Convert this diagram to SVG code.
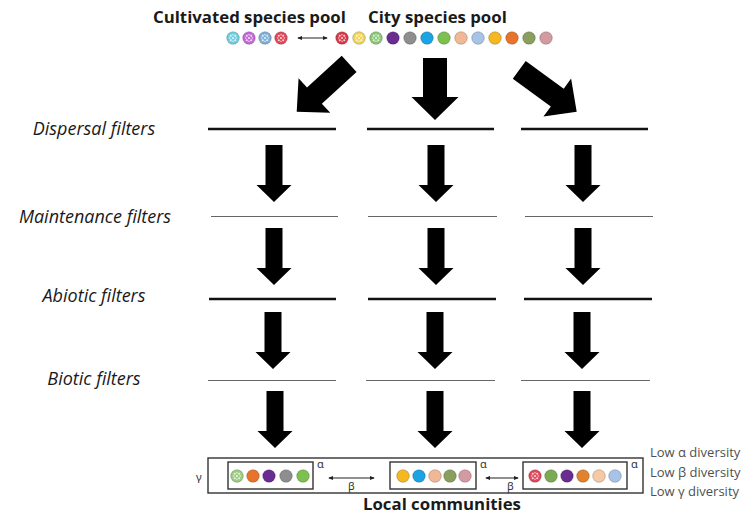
<svg xmlns="http://www.w3.org/2000/svg" xmlns:xlink="http://www.w3.org/1999/xlink" width="753" height="517" viewBox="0 0 753 517">
<style>
.title{font-family:"Open Sans","Noto Sans",sans-serif;font-weight:bold;font-size:16.8px;fill:#1a1a1a}
.lab{font-family:"Open Sans","Noto Sans",sans-serif;font-style:italic;font-size:18px;fill:#1a1a1a;text-anchor:middle}
.gr{font-family:"Noto Sans","DejaVu Sans",sans-serif;font-size:11px;fill:#333}
.low{font-family:"Open Sans","Noto Sans",sans-serif;font-size:13px;fill:#505050}
.thick{stroke:#111;stroke-width:2.6;fill:none}
.thin{stroke:#666;stroke-width:1.2;fill:none}
.c{stroke:#000;stroke-opacity:0.25;stroke-width:0.8}
.box{fill:none;stroke:#333;stroke-width:1.4}
.dbl{stroke:#222;stroke-width:1;fill:none;marker-start:url(#ah);marker-end:url(#ah)}
.arr{fill:#000}
</style>
<defs>
<marker id="ah" viewBox="0 0 6 6" refX="5" refY="3" markerWidth="5" markerHeight="5" orient="auto-start-reverse" markerUnits="userSpaceOnUse">
<path d="M0,0.5 L6,3 L0,5.5 Z" fill="#222"/>
</marker>
<g id="chk" fill="#fff" fill-opacity="0.8">
<circle cx="0" cy="0" r="1.1"/>
<circle cx="-2.2" cy="-2.2" r="1"/>
<circle cx="2.2" cy="-2.2" r="1"/>
<circle cx="-2.2" cy="2.2" r="1"/>
<circle cx="2.2" cy="2.2" r="1"/>
<circle cx="-3.3" cy="0" r="0.7"/>
<circle cx="3.3" cy="0" r="0.7"/>
<circle cx="0" cy="-3.3" r="0.7"/>
<circle cx="0" cy="3.3" r="0.7"/>
</g>
<path id="da" d="M-8.5,0 H8.5 V40 H17.5 L0,57 L-17.5,40 H-8.5 Z"/>
<path id="big" d="M-11,-71 H11 V-24 H23.5 L0,0 L-23.5,-24 H-11 Z"/>
</defs>

<g id="cultivated-pool">
<text class="title" x="153" y="23">Cultivated species pool</text>
<circle class="c" cx="233" cy="38" r="6.3" fill="#6fcfe0"/><use xlink:href="#chk" x="233" y="38"/>
<circle class="c" cx="249" cy="38" r="6.3" fill="#c46ad6"/><use xlink:href="#chk" x="249" y="38"/>
<circle class="c" cx="265" cy="38" r="6.3" fill="#7fb0d8"/><use xlink:href="#chk" x="265" y="38"/>
<circle class="c" cx="281" cy="38" r="6.3" fill="#e2475a"/><use xlink:href="#chk" x="281" y="38"/>
</g>

<g id="city-pool">
<text class="title" x="368" y="23">City species pool</text>
<circle class="c" cx="342" cy="38" r="6.3" fill="#d83a4a"/><use xlink:href="#chk" x="342" y="38"/>
<circle class="c" cx="359" cy="38" r="6.3" fill="#f2d55a"/><use xlink:href="#chk" x="359" y="38"/>
<circle class="c" cx="376" cy="38" r="6.3" fill="#8cc878"/><use xlink:href="#chk" x="376" y="38"/>
<circle class="c" cx="393" cy="38" r="6.3" fill="#6b2c91"/>
<circle class="c" cx="410" cy="38" r="6.3" fill="#8e8e8e" stroke-opacity="0.5"/>
<circle class="c" cx="427" cy="38" r="6.3" fill="#1ca3e3"/>
<circle class="c" cx="444" cy="38" r="6.3" fill="#7cc04e"/>
<circle class="c" cx="461" cy="38" r="6.3" fill="#f2b896"/>
<circle class="c" cx="478" cy="38" r="6.3" fill="#a7c3e8"/>
<circle class="c" cx="495" cy="38" r="6.3" fill="#f5b820"/>
<circle class="c" cx="512" cy="38" r="6.3" fill="#e8742c"/>
<circle class="c" cx="529" cy="38" r="6.3" fill="#8a9e5e"/>
<circle class="c" cx="546" cy="38" r="6.3" fill="#d49aa2"/>
</g>

<g id="dispersal-filters">
<text class="lab" x="94" y="135">Dispersal filters</text>
<line class="thick" x1="208" y1="129" x2="336" y2="129"/>
<line class="thick" x1="367" y1="129" x2="494" y2="129"/>
<line class="thick" x1="521" y1="129" x2="648" y2="129"/>
</g>
<g id="maintenance-filters">
<text class="lab" x="95" y="223">Maintenance filters</text>
<line class="thin" x1="211" y1="216.5" x2="338" y2="216.5"/>
<line class="thin" x1="368" y1="216.5" x2="497" y2="216.5"/>
<line class="thin" x1="525" y1="216.5" x2="653" y2="216.5"/>
</g>
<g id="abiotic-filters">
<text class="lab" x="94" y="302">Abiotic filters</text>
<line class="thick" x1="209" y1="299" x2="336" y2="299"/>
<line class="thick" x1="368" y1="299" x2="496" y2="299"/>
<line class="thick" x1="524" y1="299" x2="652" y2="299"/>
</g>
<g id="biotic-filters">
<text class="lab" x="94" y="385">Biotic filters</text>
<line class="thin" x1="208" y1="380.5" x2="336" y2="380.5"/>
<line class="thin" x1="366" y1="380.5" x2="495" y2="380.5"/>
<line class="thin" x1="521" y1="380.5" x2="650" y2="380.5"/>
</g>

<g id="local-communities">
<rect class="box" x="208" y="458" width="435" height="35"/>
<text class="gr" x="196" y="481" font-size="12">γ</text>
<g id="community-1">
<rect class="box" x="228" y="462" width="85" height="27"/>
<circle class="c" cx="237" cy="476" r="6.3" fill="#9ccc80"/><use xlink:href="#chk" x="237" y="476"/>
<circle class="c" cx="253" cy="476" r="6.3" fill="#e8742c"/>
<circle class="c" cx="269" cy="476" r="6.3" fill="#6b2c91"/>
<circle class="c" cx="286" cy="476" r="6.3" fill="#8e8e8e" stroke-opacity="0.5"/>
<circle class="c" cx="303" cy="476" r="6.3" fill="#7cc04e"/>
<text class="gr" x="317" y="468">α</text>
</g>
<g id="community-2">
<rect class="box" x="390" y="462" width="86" height="27"/>
<circle class="c" cx="403" cy="476" r="6.3" fill="#f5b820"/>
<circle class="c" cx="419" cy="476" r="6.3" fill="#1ca3e3"/>
<circle class="c" cx="435" cy="476" r="6.3" fill="#f2b896"/>
<circle class="c" cx="450" cy="476" r="6.3" fill="#8a9e5e"/>
<circle class="c" cx="465" cy="476" r="6.3" fill="#d49aa2"/>
<text class="gr" x="480" y="468">α</text>
</g>
<g id="community-3">
<rect class="box" x="523" y="462" width="104" height="27"/>
<circle class="c" cx="535" cy="476" r="6.3" fill="#e2475a"/><use xlink:href="#chk" x="535" y="476"/>
<circle class="c" cx="551" cy="476" r="6.3" fill="#7aaa52"/>
<circle class="c" cx="567" cy="476" r="6.3" fill="#6b2c91"/>
<circle class="c" cx="583" cy="476" r="6.3" fill="#e2822e"/>
<circle class="c" cx="599" cy="476" r="6.3" fill="#f5c9a4"/>
<circle class="c" cx="615" cy="476" r="6.3" fill="#a7c3e8"/>
<text class="gr" x="631" y="468">α</text>
</g>
<text class="title" x="363" y="510" font-size="15.5">Local communities</text>
</g>

<g id="diversity-legend">
<text class="low" x="650" y="457">Low α diversity</text>
<text class="low" x="650" y="477">Low β diversity</text>
<text class="low" x="650" y="496">Low γ diversity</text>
</g>

<g id="connectors">
<line class="dbl" x1="298" y1="38" x2="327" y2="38"/>
<line class="dbl" x1="329" y1="478" x2="374" y2="478"/>
<text class="gr" x="348" y="490">β</text>
<line class="dbl" x1="486" y1="478" x2="518" y2="478"/>
<text class="gr" x="507" y="490">β</text>
<use class="arr" xlink:href="#big" transform="translate(296.7,111.7) rotate(47.6)"/>
<path class="arr" d="M423,58 H447 V97 H458.5 L435,120 L411.5,97 H423 Z"/>
<use class="arr" xlink:href="#big" transform="translate(576.7,111.7) rotate(-54)"/>
<use class="arr" xlink:href="#da" x="274" y="145"/>
<use class="arr" xlink:href="#da" x="436" y="145"/>
<use class="arr" xlink:href="#da" x="583" y="145"/>
<use class="arr" xlink:href="#da" x="274" y="228"/>
<use class="arr" xlink:href="#da" x="436" y="228"/>
<use class="arr" xlink:href="#da" x="583" y="228"/>
<use class="arr" xlink:href="#da" x="273" y="312"/>
<use class="arr" xlink:href="#da" x="435" y="312"/>
<use class="arr" xlink:href="#da" x="582" y="312"/>
<use class="arr" xlink:href="#da" x="275" y="391"/>
<use class="arr" xlink:href="#da" x="435" y="391"/>
<use class="arr" xlink:href="#da" x="582" y="391"/>
</g>
</svg>
